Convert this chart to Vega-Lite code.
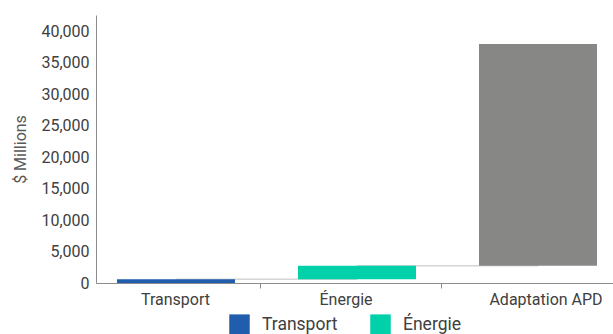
{
  "$schema": "https://vega.github.io/schema/vega-lite/v6.json",
  "width": 522,
  "height": 268,
  "autosize": {"type": "none"},
  "padding": {"left": 96, "top": 15, "right": 0, "bottom": 51},
  "background": "white",
  "config": {
    "view": {"stroke": null},
    "font": "Roboto",
    "axis": {"labelFont": "Roboto", "titleFont": "Roboto", "labelColor": "#404040", "titleColor": "#595959", "domainColor": "#8c8c8c", "tickColor": "#8c8c8c", "grid": false}
  },
  "data": {
    "values": [
      {"cat": "Transport", "start": 0, "end": 590, "next": "Énergie"},
      {"cat": "Énergie", "start": 590, "end": 2750, "next": "Adaptation APD"},
      {"cat": "Adaptation APD", "start": 2750, "end": 38000, "next": null}
    ]
  },
  "encoding": {
    "x": {
      "field": "cat", "type": "nominal", "sort": null,
      "scale": {"domain": ["Transport", "Énergie", "Adaptation APD"], "paddingInner": 0.348, "paddingOuter": 0.116},
      "axis": {"title": null, "labelAngle": 0, "labelAlign": "center", "labelBaseline": "top", "labelFontSize": 16, "tickSize": 5, "tickOffset": 84,
        "labelOffset": {"condition": [{"test": "datum.value === 'Énergie'", "value": -95.5}, {"test": "datum.value === 'Adaptation APD'", "value": -76.5}], "value": -85},
        "labelPadding": 3, "domainWidth": 1, "labelOverlap": false}
    },
    "y": {
      "field": "start", "type": "quantitative",
      "scale": {"domain": [0, 42600], "nice": false, "zero": true},
      "axis": {"title": "$ Millions", "titleFontSize": 16, "titleFontWeight": "normal", "titlePadding": 12, "labelFontSize": 16, "ticks": false, "labelPadding": 7, "labelOverlap": false, "values": [0, 5000, 10000, 15000, 20000, 25000, 30000, 35000, 40000], "format": ",d"}
    }
  },
  "layer": [
    {
      "transform": [{"filter": "datum.next != null"}],
      "mark": {"type": "rule", "color": "#d4d4d4", "strokeWidth": 1.5},
      "encoding": {
        "x2": {"field": "next"},
        "y": {
          "field": "end", "type": "quantitative",
          "scale": {"domain": [0, 42600], "nice": false, "zero": true},
          "axis": {"title": "$ Millions", "titleFontSize": 16, "titleFontWeight": "normal", "titlePadding": 12, "labelFontSize": 16, "ticks": false, "labelPadding": 7, "labelOverlap": false, "values": [0, 5000, 10000, 15000, 20000, 25000, 30000, 35000, 40000], "format": ",d"}
        }
      }
    },
    {
      "mark": {"type": "bar"},
      "encoding": {
        "y2": {"field": "end"},
        "color": {
          "field": "cat", "type": "nominal",
          "scale": {"domain": ["Transport", "Énergie", "Adaptation APD"], "range": ["#205EAD", "#00D1A9", "#878786"]},
          "legend": {"values": ["Transport", "Énergie"], "title": null, "orient": "none", "direction": "horizontal", "legendX": 133, "legendY": 299, "symbolType": "square", "symbolSize": 420, "symbolStrokeWidth": 0, "symbolOpacity": 1, "labelFontSize": 17.5, "labelColor": "#404040", "labelFont": "Roboto", "labelOffset": 12, "columnPadding": 32}
        }
      }
    }
  ]
}
